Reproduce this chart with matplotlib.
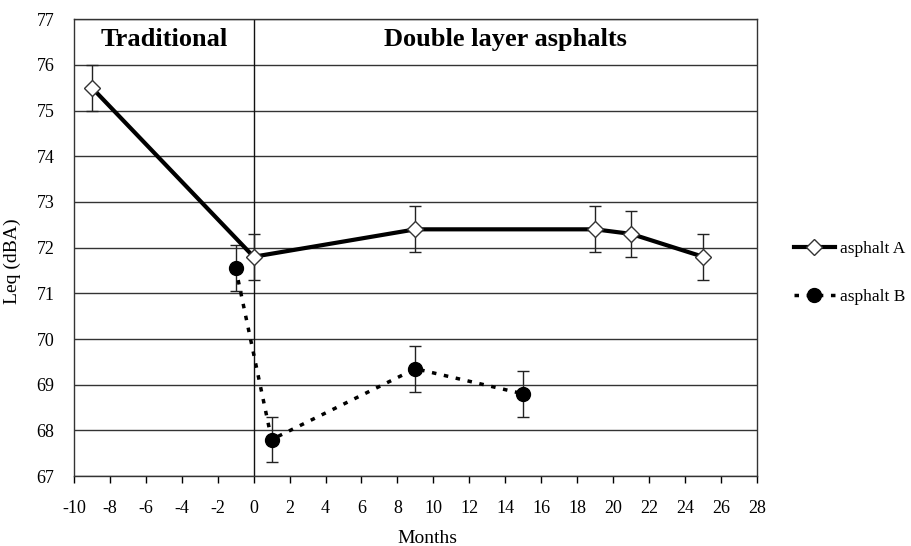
import matplotlib
matplotlib.use("Agg")
import matplotlib.pyplot as plt

plt.rcParams['font.family'] = ['Liberation Serif', 'DejaVu Serif']
plt.rcParams['axes.unicode_minus'] = False

# Data
months_a = [-9, 0, 9, 19, 21, 25]
leq_a = [75.5, 71.8, 72.4, 72.4, 72.3, 71.8]
err_a = [0.5, 0.5, 0.5, 0.5, 0.5, 0.5]

months_b = [-1, 1, 9, 15]
leq_b = [71.55, 67.8, 69.35, 68.8]
err_b = [0.5, 0.5, 0.5, 0.5]

xticks = list(range(-10, 29, 2))
yticks = list(range(67, 78))

fig = plt.figure(figsize=(9.12, 5.46), dpi=100)
ax = fig.add_axes([0.081, 0.128, 0.749, 0.837])

for y in yticks:
    ax.axhline(y, color='#333333', lw=1.0, zorder=1)
ax.axvline(0, color='#111111', lw=1.0, zorder=1)

ax.errorbar(months_a, leq_a, yerr=err_a, fmt='none', ecolor='#222222', elinewidth=1.0,
            capsize=4, capthick=1.0, zorder=2)
ax.errorbar(months_b, leq_b, yerr=err_b, fmt='none', ecolor='#222222', elinewidth=1.0,
            capsize=4, capthick=1.0, zorder=2)

ax.plot(months_a, leq_a, color='black', lw=3, marker='D', markersize=8,
        markerfacecolor='white', markeredgecolor='#333333', markeredgewidth=1.0,
        label='asphalt A', zorder=4)
ax.plot(months_b, leq_b, color='black', lw=2.5, linestyle=(0, (1.3, 2.2)), marker='o',
        markersize=10, markerfacecolor='black', markeredgecolor='black',
        label='asphalt B', zorder=3)

ax.set_xlim(-10, 28)
ax.set_ylim(67, 77)
ax.set_xticks(xticks)
ax.set_yticks(yticks)
ax.tick_params(axis='x', direction='out', length=5, width=1, labelsize=13, pad=12)
ax.tick_params(axis='y', length=0, labelsize=13, pad=14)
for s in ax.spines.values():
    s.set_color('#333333')
    s.set_linewidth(1.0)

ax.set_xlabel('Months', fontsize=14)
ax.xaxis.set_label_coords(0.517, -0.118)
ax.set_ylabel('Leq (dBA)', fontsize=14)
ax.yaxis.set_label_coords(-0.078, 0.47)

ax.text(-5, 76.55, 'Traditional', fontsize=19, fontweight='bold', ha='center', va='center')
ax.text(14, 76.55, 'Double layer asphalts', fontsize=19, fontweight='bold', ha='center', va='center')

fig.legend(loc='center left', bbox_to_anchor=(0.853, 0.5), frameon=False, fontsize=12.5,
           handlelength=2.4, handletextpad=0.25, labelspacing=1.8)

fig.savefig('out.png', dpi=100)
